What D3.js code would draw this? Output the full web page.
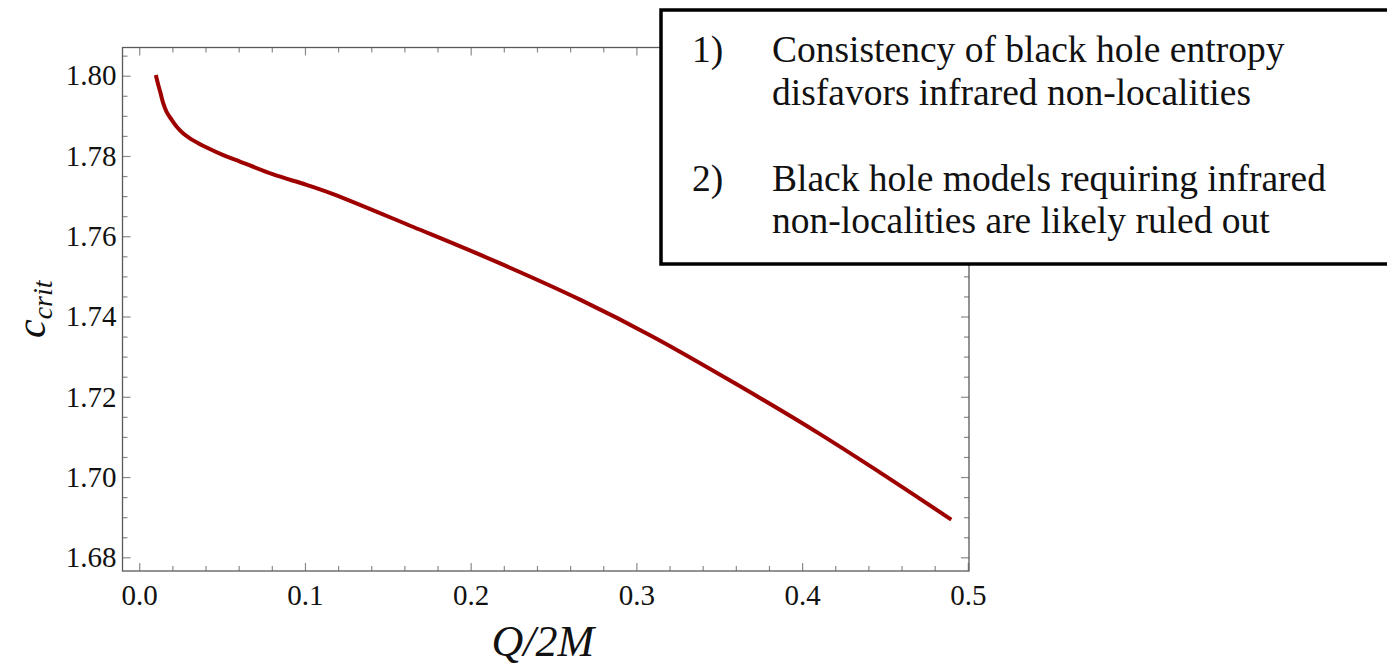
<!DOCTYPE html>
<html>
<head>
<meta charset="utf-8">
<script src="https://cdn.jsdelivr.net/npm/d3@7"></script>
<style>
  html, body { margin: 0; padding: 0; background: #fff; }
  svg { display: block; }
</style>
</head>
<body>
<svg id="chart" width="1387" height="668"></svg>
<script>
// Critical coupling c_crit as a function of charge-to-mass ratio Q/2M
const qOver2M = [0.0100, 0.0115, 0.0129, 0.0145, 0.0165, 0.0196, 0.0226, 0.0266, 0.0306, 0.0356,
                 0.0407, 0.0507, 0.0608, 0.0809, 0.1010, 0.1170, 0.1654, 0.2157, 0.2660, 0.3102,
                 0.3605, 0.4108, 0.4490, 0.4900];
const cCrit   = [1.8002, 1.7977, 1.7956, 1.7931, 1.7910, 1.7890, 1.7873, 1.7856, 1.7844, 1.7832,
                 1.7821, 1.7802, 1.7786, 1.7754, 1.7728, 1.7705, 1.7623, 1.7536, 1.7442, 1.7349,
                 1.7231, 1.7107, 1.7006, 1.6894];

const xMajorTicks = [0.0, 0.1, 0.2, 0.3, 0.4, 0.5];
const xTickLabels = ["0.0", "0.1", "0.2", "0.3", "0.4", "0.5"];
const yMajorTicks = [1.68, 1.70, 1.72, 1.74, 1.76, 1.78, 1.80];
const yTickLabels = ["1.68", "1.70", "1.72", "1.74", "1.76", "1.78", "1.80"];

const notes = [
  { num: "1)", lines: ["Consistency of black hole entropy", "disfavors infrared non-localities"] },
  { num: "2)", lines: ["Black hole models requiring infrared", "non-localities are likely ruled out"] }
];

const svg = d3.select("#chart");
const plot = { left: 122.5, right: 969, top: 47.5, bottom: 571 };

const x = d3.scaleLinear().domain([-0.0101, 0.5007]).range([plot.left, plot.right]);
const y = d3.scaleLinear().domain([1.67659, 1.80703]).range([plot.bottom, plot.top]);

const xMinor = d3.range(0, 0.5001, 0.02).filter(v => !xMajorTicks.some(m => Math.abs(m - v) < 1e-9));
const yMinor = d3.range(1.68, 1.8051, 0.005).filter(v => !yMajorTicks.some(m => Math.abs(m - v) < 1e-9));

const tickColor = "#8a8a8a";
const labelFont = "'Liberation Serif', 'Times New Roman', serif";

function styleAxis(g) {
  g.select(".domain").remove();
  g.selectAll(".tick line").attr("stroke", tickColor).attr("stroke-width", 1.2);
  g.selectAll(".tick text").attr("fill", "#111").attr("font-family", labelFont).attr("font-size", 29);
}

// major + minor ticks on all four sides, pointing inward
const sides = [
  { axis: d3.axisBottom, scale: x, major: xMajorTicks, minor: xMinor, tr: `translate(0,${plot.bottom})`, labels: true },
  { axis: d3.axisTop,    scale: x, major: xMajorTicks, minor: xMinor, tr: `translate(0,${plot.top})`,    labels: false },
  { axis: d3.axisLeft,   scale: y, major: yMajorTicks, minor: yMinor, tr: `translate(${plot.left},0)`,  labels: true },
  { axis: d3.axisRight,  scale: y, major: yMajorTicks, minor: yMinor, tr: `translate(${plot.right},0)`, labels: false }
];

sides.forEach(s => {
  const isX = s.scale === x;
  const labelArr = isX ? xTickLabels : yTickLabels;
  const gMinor = svg.append("g").attr("transform", s.tr)
    .call(s.axis(s.scale).tickValues(s.minor).tickSize(-5).tickFormat(""));
  styleAxis(gMinor);
  const gMajor = svg.append("g").attr("transform", s.tr)
    .call(s.axis(s.scale).tickValues(s.major).tickSize(-8)
      .tickPadding(isX ? 13 : 6)
      .tickFormat(s.labels ? ((d, j) => labelArr[j]) : ""));
  styleAxis(gMajor);
});

// plot frame
svg.append("rect")
  .attr("x", plot.left).attr("y", plot.top)
  .attr("width", plot.right - plot.left).attr("height", plot.bottom - plot.top)
  .attr("fill", "none").attr("stroke", "#5a5a5a").attr("stroke-width", 1.3);

// curve
const data = qOver2M.map((q, i) => ({ q, c: cCrit[i] }));
const line = d3.line().x(d => x(d.q)).y(d => y(d.c)).curve(d3.curveCatmullRom.alpha(0.5));
svg.append("path")
  .datum(data)
  .attr("d", line)
  .attr("fill", "none")
  .attr("stroke", "#9e0000")
  .attr("stroke-width", 4)
  .attr("stroke-linecap", "butt");

// axis titles
const yTitle = svg.append("text")
  .attr("transform", `translate(45,${(plot.top + plot.bottom) / 2}) rotate(-90)`)
  .attr("text-anchor", "middle")
  .attr("font-family", labelFont)
  .attr("font-style", "italic")
  .attr("fill", "#111");
yTitle.append("tspan").attr("font-size", 42).text("c");
yTitle.append("tspan").attr("font-size", 28).attr("dy", 7).text("crit");

svg.append("text")
  .attr("x", (plot.left + plot.right) / 2 - 3)
  .attr("y", 656)
  .attr("text-anchor", "middle")
  .attr("font-family", labelFont)
  .attr("font-style", "italic")
  .attr("font-size", 44)
  .attr("fill", "#111")
  .text("Q/2M");

// text box with conclusions
const box = svg.append("g");
box.append("rect")
  .attr("x", 661).attr("y", 10)
  .attr("width", 760).attr("height", 254)
  .attr("fill", "#fff")
  .attr("stroke", "#000").attr("stroke-width", 3.5);

const lineBaselines = [[62, 105], [191, 233]];
notes.forEach((n, i) => {
  box.append("text")
    .attr("x", 692).attr("y", lineBaselines[i][0])
    .attr("font-family", labelFont).attr("font-size", 37.5).attr("fill", "#111")
    .text(n.num);
  n.lines.forEach((t, j) => {
    box.append("text")
      .attr("x", 772).attr("y", lineBaselines[i][j])
      .attr("font-family", labelFont).attr("font-size", 37.5).attr("fill", "#111")
      .text(t);
  });
});
</script>
</body>
</html>
